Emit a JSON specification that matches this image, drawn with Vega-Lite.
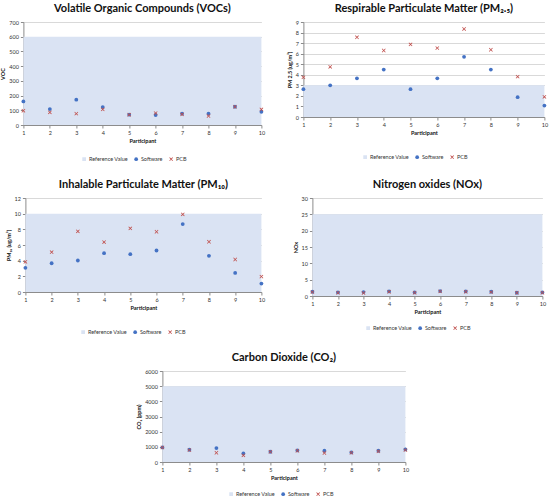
{
  "$schema": "https://vega.github.io/schema/vega-lite/v6.json",
  "padding": {"left": 0, "right": 1, "top": 3, "bottom": 2},
  "background": "white",
  "center": true,
  "spacing": 16,
  "resolve": {"scale": {"color": "independent", "shape": "independent"}},
  "vconcat": [
    {
      "spacing": 21,
      "resolve": {"scale": {"color": "independent", "shape": "independent"}},
      "hconcat": [
        {
          "width": 238,
          "height": 103,
          "title": "Volatile Organic Compounds (VOCs)",
          "encoding": {
            "x": {"field": "participant", "type": "quantitative", "scale": {"domain": [1, 10], "nice": false}, "axis": {"values": [1, 2, 3, 4, 5, 6, 7, 8, 9, 10]}, "title": "Participant"},
            "y": {"field": "value", "type": "quantitative", "scale": {"domain": [0, 700], "nice": false}, "axis": {"values": [0, 100, 200, 300, 400, 500, 600, 700]}, "title": "VOC"}
          },
          "layer": [
            {
              "data": {"values": [{"series": "Reference Value", "participant": 1, "p2": 10, "value": 600}]},
              "mark": {"type": "rect", "color": "#dae3f3"},
              "encoding": {
                "x2": {"field": "p2"},
                "y2": {"datum": 0},
                "color": {"field": "series", "type": "nominal", "scale": {"domain": ["Reference Value", "Software", "PCB"], "range": ["#dae3f3", "#4472c4", "#c0504d"]}, "legend": {"orient": "none", "legendX": 58, "legendY": 134}}
              }
            },
            {
              "data": {"values": [
                {"participant": 1, "Software": 160, "PCB": 97},
                {"participant": 2, "Software": 108, "PCB": 86},
                {"participant": 3, "Software": 172, "PCB": 77},
                {"participant": 4, "Software": 122, "PCB": 106},
                {"participant": 5, "Software": 70, "PCB": 70},
                {"participant": 6, "Software": 68, "PCB": 81},
                {"participant": 7, "Software": 77, "PCB": 72},
                {"participant": 8, "Software": 77, "PCB": 61},
                {"participant": 9, "Software": 124, "PCB": 124},
                {"participant": 10, "Software": 90, "PCB": 106}
              ]},
              "transform": [{"fold": ["Software", "PCB"], "as": ["series", "value"]}],
              "mark": {"type": "point", "filled": true, "opacity": 1},
              "encoding": {
                "color": {"field": "series", "type": "nominal"},
                "shape": {"field": "series", "type": "nominal", "scale": {"domain": ["Reference Value", "Software", "PCB"], "range": ["square", "circle", "M-1,-0.72L-0.72,-1L0,-0.28L0.72,-1L1,-0.72L0.28,0L1,0.72L0.72,1L0,0.28L-0.72,1L-1,0.72L-0.28,0Z"]}},
                "size": {"field": "series", "type": "nominal", "scale": {"domain": ["Reference Value", "Software", "PCB"], "range": [14, 15, 28]}, "legend": null},
                "order": {"field": "series", "sort": "descending"}
              }
            }
          ]
        },
        {
          "width": 241,
          "height": 95,
          "title": "Respirable Particulate Matter (PM₂.₅)",
          "encoding": {
            "x": {"field": "participant", "type": "quantitative", "scale": {"domain": [1, 10], "nice": false}, "axis": {"values": [1, 2, 3, 4, 5, 6, 7, 8, 9, 10]}, "title": "Participant"},
            "y": {"field": "value", "type": "quantitative", "scale": {"domain": [0, 9], "nice": false}, "axis": {"values": [0, 1, 2, 3, 4, 5, 6, 7, 8, 9]}, "title": "PM 2.5 (ug/m³)"}
          },
          "layer": [
            {
              "data": {"values": [{"series": "Reference Value", "participant": 1, "p2": 10, "value": 3}]},
              "mark": {"type": "rect", "color": "#dae3f3"},
              "encoding": {
                "x2": {"field": "p2"},
                "y2": {"datum": 0},
                "color": {"field": "series", "type": "nominal", "scale": {"domain": ["Reference Value", "Software", "PCB"], "range": ["#dae3f3", "#4472c4", "#c0504d"]}, "legend": {"orient": "none", "legendX": 59, "legendY": 132}}
              }
            },
            {
              "data": {"values": [
                {"participant": 1, "Software": 2.64, "PCB": 3.76},
                {"participant": 2, "Software": 3.0, "PCB": 4.75},
                {"participant": 3, "Software": 3.66, "PCB": 7.55},
                {"participant": 4, "Software": 4.49, "PCB": 6.3},
                {"participant": 5, "Software": 2.64, "PCB": 6.88},
                {"participant": 6, "Software": 3.66, "PCB": 6.53},
                {"participant": 7, "Software": 5.7, "PCB": 8.34},
                {"participant": 8, "Software": 4.49, "PCB": 6.37},
                {"participant": 9, "Software": 1.88, "PCB": 3.82},
                {"participant": 10, "Software": 1.08, "PCB": 1.91}
              ]},
              "transform": [{"fold": ["Software", "PCB"], "as": ["series", "value"]}],
              "mark": {"type": "point", "filled": true, "opacity": 1},
              "encoding": {
                "color": {"field": "series", "type": "nominal"},
                "shape": {"field": "series", "type": "nominal", "scale": {"domain": ["Reference Value", "Software", "PCB"], "range": ["square", "circle", "M-1,-0.72L-0.72,-1L0,-0.28L0.72,-1L1,-0.72L0.28,0L1,0.72L0.72,1L0,0.28L-0.72,1L-1,0.72L-0.28,0Z"]}},
                "size": {"field": "series", "type": "nominal", "scale": {"domain": ["Reference Value", "Software", "PCB"], "range": [14, 15, 28]}, "legend": null},
                "order": {"field": "series", "sort": "descending"}
              }
            }
          ]
        }
      ]
    },
    {
      "spacing": 27,
      "resolve": {"scale": {"color": "independent", "shape": "independent"}},
      "hconcat": [
        {
          "width": 236,
          "height": 94,
          "title": "Inhalable Particulate Matter (PM₁₀)",
          "encoding": {
            "x": {"field": "participant", "type": "quantitative", "scale": {"domain": [1, 10], "nice": false}, "axis": {"values": [1, 2, 3, 4, 5, 6, 7, 8, 9, 10]}, "title": "Participant"},
            "y": {"field": "value", "type": "quantitative", "scale": {"domain": [0, 12], "nice": false}, "axis": {"values": [0, 2, 4, 6, 8, 10, 12]}, "title": "PM₁₀ (ug/m³)"}
          },
          "layer": [
            {
              "data": {"values": [{"series": "Reference Value", "participant": 1, "p2": 10, "value": 10}]},
              "mark": {"type": "rect", "color": "#dae3f3"},
              "encoding": {
                "x2": {"field": "p2"},
                "y2": {"datum": 0},
                "color": {"field": "series", "type": "nominal", "scale": {"domain": ["Reference Value", "Software", "PCB"], "range": ["#dae3f3", "#4472c4", "#c0504d"]}, "legend": {"orient": "none", "legendX": 55, "legendY": 131}}
              }
            },
            {
              "data": {"values": [
                {"participant": 1, "Software": 3.08, "PCB": 3.85},
                {"participant": 2, "Software": 3.67, "PCB": 5.09},
                {"participant": 3, "Software": 4.02, "PCB": 7.74},
                {"participant": 4, "Software": 4.96, "PCB": 6.37},
                {"participant": 5, "Software": 4.83, "PCB": 8.12},
                {"participant": 6, "Software": 5.3, "PCB": 7.69},
                {"participant": 7, "Software": 8.67, "PCB": 9.91},
                {"participant": 8, "Software": 4.62, "PCB": 6.41},
                {"participant": 9, "Software": 2.44, "PCB": 4.15},
                {"participant": 10, "Software": 1.07, "PCB": 1.97}
              ]},
              "transform": [{"fold": ["Software", "PCB"], "as": ["series", "value"]}],
              "mark": {"type": "point", "filled": true, "opacity": 1},
              "encoding": {
                "color": {"field": "series", "type": "nominal"},
                "shape": {"field": "series", "type": "nominal", "scale": {"domain": ["Reference Value", "Software", "PCB"], "range": ["square", "circle", "M-1,-0.72L-0.72,-1L0,-0.28L0.72,-1L1,-0.72L0.28,0L1,0.72L0.72,1L0,0.28L-0.72,1L-1,0.72L-0.28,0Z"]}},
                "size": {"field": "series", "type": "nominal", "scale": {"domain": ["Reference Value", "Software", "PCB"], "range": [14, 15, 28]}, "legend": null},
                "order": {"field": "series", "sort": "descending"}
              }
            }
          ]
        },
        {
          "width": 230,
          "height": 98,
          "title": "Nitrogen oxides (NOx)",
          "encoding": {
            "x": {"field": "participant", "type": "quantitative", "scale": {"domain": [1, 10], "nice": false}, "axis": {"values": [1, 2, 3, 4, 5, 6, 7, 8, 9, 10]}, "title": "Participant"},
            "y": {"field": "value", "type": "quantitative", "scale": {"domain": [0, 30], "nice": false}, "axis": {"values": [0, 5, 10, 15, 20, 25, 30]}, "title": "NOx"}
          },
          "layer": [
            {
              "data": {"values": [{"series": "Reference Value", "participant": 1, "p2": 10, "value": 25}]},
              "mark": {"type": "rect", "color": "#dae3f3"},
              "encoding": {
                "x2": {"field": "p2"},
                "y2": {"datum": 0},
                "color": {"field": "series", "type": "nominal", "scale": {"domain": ["Reference Value", "Software", "PCB"], "range": ["#dae3f3", "#4472c4", "#c0504d"]}, "legend": {"orient": "none", "legendX": 53, "legendY": 127}}
              }
            },
            {
              "data": {"values": [
                {"participant": 1, "Software": 1.3, "PCB": 1.2},
                {"participant": 2, "Software": 1.1, "PCB": 1.0},
                {"participant": 3, "Software": 1.2, "PCB": 0.9},
                {"participant": 4, "Software": 1.4, "PCB": 1.3},
                {"participant": 5, "Software": 1.1, "PCB": 1.0},
                {"participant": 6, "Software": 1.5, "PCB": 1.4},
                {"participant": 7, "Software": 1.4, "PCB": 1.3},
                {"participant": 8, "Software": 1.3, "PCB": 1.2},
                {"participant": 9, "Software": 1.0, "PCB": 1.0},
                {"participant": 10, "Software": 1.1, "PCB": 1.0}
              ]},
              "transform": [{"fold": ["Software", "PCB"], "as": ["series", "value"]}],
              "mark": {"type": "point", "filled": true, "opacity": 1},
              "encoding": {
                "color": {"field": "series", "type": "nominal"},
                "shape": {"field": "series", "type": "nominal", "scale": {"domain": ["Reference Value", "Software", "PCB"], "range": ["square", "circle", "M-1,-0.72L-0.72,-1L0,-0.28L0.72,-1L1,-0.72L0.28,0L1,0.72L0.72,1L0,0.28L-0.72,1L-1,0.72L-0.28,0Z"]}},
                "size": {"field": "series", "type": "nominal", "scale": {"domain": ["Reference Value", "Software", "PCB"], "range": [14, 15, 28]}, "legend": null},
                "order": {"field": "series", "sort": "descending"}
              }
            }
          ]
        }
      ]
    },
    {
      "width": 243,
      "height": 91,
      "title": "Carbon Dioxide (CO₂)",
      "encoding": {
        "x": {"field": "participant", "type": "quantitative", "scale": {"domain": [1, 10], "nice": false}, "axis": {"values": [1, 2, 3, 4, 5, 6, 7, 8, 9, 10]}, "title": "Participant"},
        "y": {"field": "value", "type": "quantitative", "scale": {"domain": [0, 6000], "nice": false}, "axis": {"values": [0, 1000, 2000, 3000, 4000, 5000, 6000], "format": "d"}, "title": "CO₂ (ppm)"}
      },
      "layer": [
        {
          "data": {"values": [{"series": "Reference Value", "participant": 1, "p2": 10, "value": 5000}]},
          "mark": {"type": "rect", "color": "#dae3f3"},
          "encoding": {
            "x2": {"field": "p2"},
            "y2": {"datum": 0},
            "color": {"field": "series", "type": "nominal", "scale": {"domain": ["Reference Value", "Software", "PCB"], "range": ["#dae3f3", "#4472c4", "#c0504d"]}, "legend": {"orient": "none", "legendX": 66, "legendY": 120}}
          }
        },
        {
          "data": {"values": [
            {"participant": 1, "Software": 960, "PCB": 960},
            {"participant": 2, "Software": 808, "PCB": 786},
            {"participant": 3, "Software": 917, "PCB": 611},
            {"participant": 4, "Software": 567, "PCB": 437},
            {"participant": 5, "Software": 677, "PCB": 677},
            {"participant": 6, "Software": 764, "PCB": 742},
            {"participant": 7, "Software": 742, "PCB": 590},
            {"participant": 8, "Software": 633, "PCB": 611},
            {"participant": 9, "Software": 742, "PCB": 699},
            {"participant": 10, "Software": 830, "PCB": 786}
          ]},
          "transform": [{"fold": ["Software", "PCB"], "as": ["series", "value"]}],
          "mark": {"type": "point", "filled": true, "opacity": 1},
          "encoding": {
            "color": {"field": "series", "type": "nominal"},
            "shape": {"field": "series", "type": "nominal", "scale": {"domain": ["Reference Value", "Software", "PCB"], "range": ["square", "circle", "M-1,-0.72L-0.72,-1L0,-0.28L0.72,-1L1,-0.72L0.28,0L1,0.72L0.72,1L0,0.28L-0.72,1L-1,0.72L-0.28,0Z"]}},
            "size": {"field": "series", "type": "nominal", "scale": {"domain": ["Reference Value", "Software", "PCB"], "range": [14, 15, 28]}, "legend": null},
            "order": {"field": "series", "sort": "descending"}
          }
        }
      ]
    }
  ],
  "config": {
    "font": "Lato",
    "view": {"stroke": null},
    "title": {"fontSize": 11, "fontWeight": "bold", "color": "#111", "offset": 6},
    "axis": {
      "labelFontSize": 5.5,
      "titleFontSize": 5.5,
      "titleFontWeight": "bold",
      "labelColor": "#333",
      "titleColor": "#111",
      "domainColor": "#8c8c8c",
      "tickColor": "#8c8c8c",
      "gridColor": "#d9d9d9",
      "tickSize": 3,
      "labelPadding": 2,
      "titlePadding": 3,
      "labelOverlap": false,
      "labelFlush": false
    },
    "axisX": {"grid": false},
    "axisY": {"grid": true},
    "legend": {
      "direction": "horizontal",
      "title": null,
      "labelFontSize": 5.5,
      "labelColor": "#333",
      "symbolSize": 14,
      "symbolStrokeWidth": 0,
      "columnPadding": 5,
      "labelOffset": 2
    }
  }
}
